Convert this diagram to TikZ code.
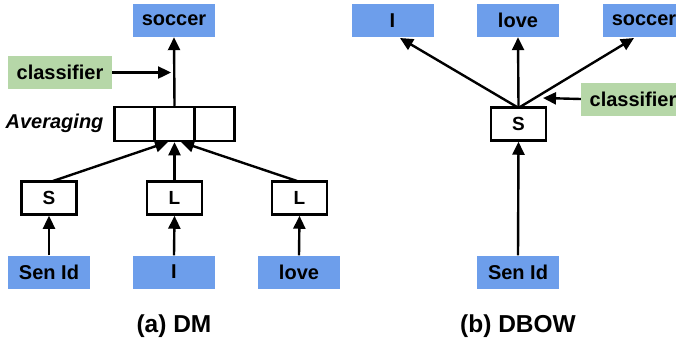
\documentclass[tikz,border=0pt]{standalone}
\usepackage{fontspec}
\setmainfont{Liberation Sans}
\usetikzlibrary{arrows.meta}
\definecolor{wblue}{HTML}{6D9EEB}
\definecolor{cgreen}{HTML}{B6D7A8}
\tikzset{
  word/.style={fill=wblue, minimum width=82pt, minimum height=33pt, inner sep=0pt, font=\fontsize{20}{24}\selectfont\bfseries},
  clsbox/.style={fill=cgreen, minimum width=104pt, minimum height=33pt, inner sep=0pt, font=\fontsize{20}{24}\selectfont\bfseries},
  vecbox/.style={draw=black, line width=2.5pt, minimum width=55pt, minimum height=33pt, inner sep=0pt, font=\fontsize{19}{22}\selectfont\bfseries},
  cell/.style={draw=black, line width=2.5pt, minimum width=40pt, minimum height=34pt, inner sep=0pt},
  conn/.style={line width=2.4pt, -{Triangle[length=13pt,width=12pt]}},
  captxt/.style={font=\fontsize{24.5}{28}\selectfont\bfseries},
}
\begin{document}
\begin{tikzpicture}[x=1pt,y=-1pt]
\useasboundingbox (0,0) rectangle (676,341);
\clip (0,0) rectangle (676,341);
% ---- (a) DM ----
\node[word] (soccerA) at (174,20.5) {soccer};
\node[clsbox] (clsA) at (60,72.5) {classifier};
\node[cell] (avg1) at (134.5,124) {};
\node[cell] (avg2) at (174.5,124) {};
\node[cell] (avg3) at (214.5,124) {};
\node[anchor=east, font=\fontsize{20}{24}\selectfont\bfseries\itshape] (avglbl) at (107,123) {Averaging};
\node[vecbox] (sA) at (49,198) {S};
\node[vecbox] (lA1) at (174.5,198) {L};
\node[vecbox] (lA2) at (299.5,198) {L};
\node[word] (senA) at (49,272) {Sen Id};
\node[word] (iA) at (174,272) {I};
\node[word] (loveA) at (299,272) {love};
\node[captxt] (capA) at (174,326) {(a) DM};
\coordinate (clsTipA) at (171,72.5);
\coordinate (inL) at (168,142);
\coordinate (inR) at (181,142);
\coordinate (sTopA) at (53,181);
\coordinate (lTopA) at (297,181);
\draw[conn] (avg2.north) -- (soccerA.south);
\draw[conn] (clsA.east) -- (clsTipA);
\draw[conn] (sTopA) -- (inL);
\draw[conn] (lA1.north) -- (avg2.south);
\draw[conn] (lTopA) -- (inR);
\draw[conn] (senA.north) -- (sA.south);
\draw[conn] (iA.north) -- (lA1.south);
\draw[conn] (loveA.north) -- (lA2.south);
% ---- (b) DBOW ----
\node[word] (iB) at (392.5,20.5) {I};
\node[word] (loveB) at (518,20.5) {love};
\node[word] (soccerB) at (644,20.5) {soccer};
\node[clsbox] (clsB) at (633,99) {classifier};
\node[vecbox] (sB) at (518.5,124) {S};
\node[word] (senB) at (518,272) {Sen Id};
\node[captxt] (capB) at (518,326) {(b) DBOW};
\coordinate (sTopBL) at (517,107);
\coordinate (sTopBR) at (520,107);
\coordinate (iTip) at (400,38);
\coordinate (soccerTip) at (634,38);
\coordinate (clsTipB) at (543,98);
\draw[conn] (sTopBL) -- (iTip);
\draw[conn] (sB.north) -- (loveB.south);
\draw[conn] (sTopBR) -- (soccerTip);
\draw[conn] (clsB.west) -- (clsTipB);
\draw[conn] (senB.north) -- (sB.south);
\end{tikzpicture}
\end{document}
